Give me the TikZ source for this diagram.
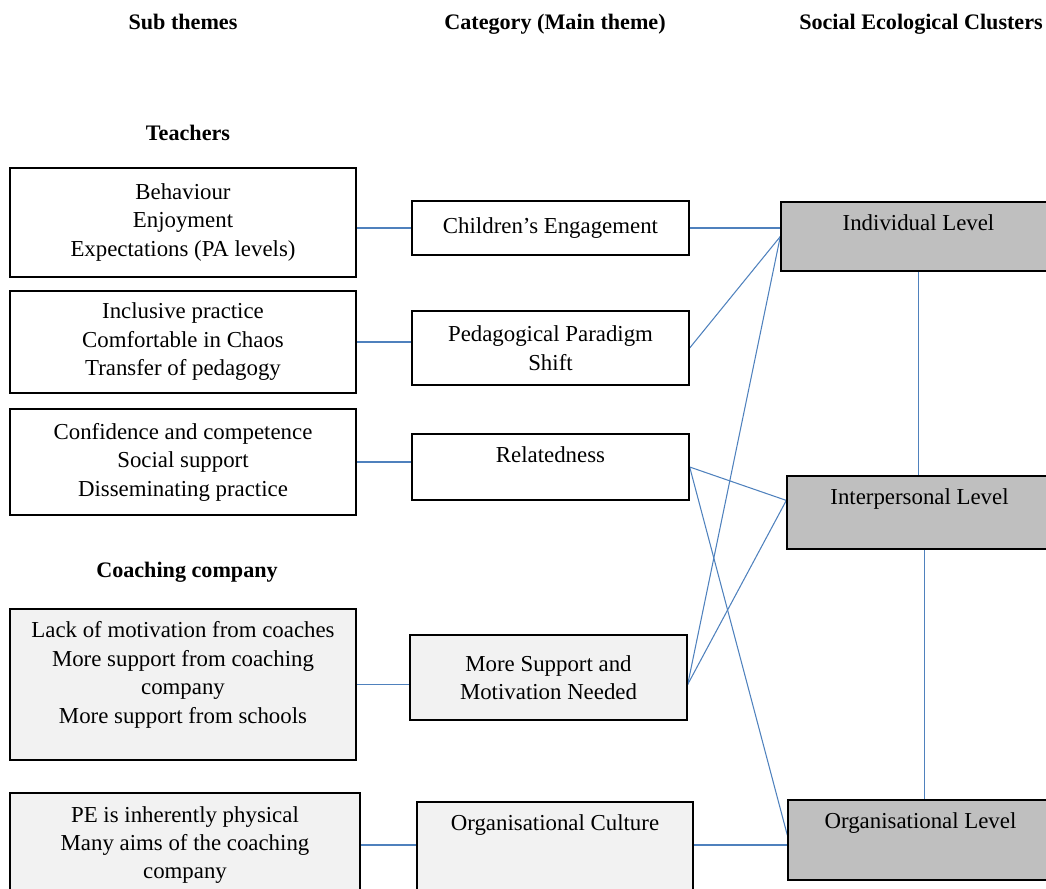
\documentclass[tikz,border=0pt]{standalone}
\usepackage{fontspec}
\setmainfont{Liberation Serif}
\pgfdeclarelayer{bg}
\pgfsetlayers{bg,main}
\definecolor{linkblue}{HTML}{4F81BD}
\definecolor{paleg}{HTML}{F2F2F2}
\definecolor{clustergray}{HTML}{BFBFBF}
\tikzset{
    every node/.style={font=\fontsize{13}{16.2}\selectfont, align=center, inner sep=1mm}
}
\tikzset{
    hdr/.style={font=\fontsize{12.6}{15}\selectfont\bfseries},
    subbox/.style={rectangle, draw, line width=0.8pt, minimum width=6.92cm},
    catbox/.style={rectangle, draw, line width=0.8pt, minimum width=5.54cm},
    lvlbox/.style={rectangle, draw, line width=0.8pt, fill=clustergray, minimum width=5.5cm},
    toplbl/.style={anchor=north, yshift=-0.16cm, draw=none, fill=none},
    link/.style={draw=linkblue, line width=0.6pt}
}

\begin{document}
\begin{tikzpicture}[x=0.02cm, y=-0.02cm]
        \useasboundingbox (0,0) rectangle (1046,889);
        \node (hsub) [hdr] at (183, 22) {Sub themes};
        \node (hcat) [hdr] at (555, 24) {Category (Main theme)};
        \node (hsec) [hdr] at (921, 24) {Social Ecological Clusters};
        \node (hteach) [hdr] at (188, 133) {Teachers};
        \node (hcoach) [hdr] at (187, 572) {Coaching company};
        \node (s1) [subbox, minimum height=2.18cm] at (183, 222.5) {Behaviour\\Enjoyment\\Expectations (PA levels)};
        \node (s2) [subbox, minimum height=2.04cm] at (183, 342) {Inclusive practice\\Comfortable in Chaos\\Transfer of pedagogy};
        \node (s3) [subbox, minimum height=2.12cm] at (183, 462) {Confidence and competence\\Social support\\Disseminating practice};
        \node (s4) [subbox, fill=paleg, minimum height=3.02cm, label={[toplbl]north:{Lack of motivation from coaches\\More support from coaching\\company\\More support from schools}}] at (183, 684.5) {};
        \node (s5) [subbox, fill=paleg, minimum width=7cm, minimum height=2.08cm] at (185, 845) {PE is inherently physical\\Many aims of the coaching\\company};
        \node (c1) [catbox, minimum height=1.08cm] at (550.5, 228) {Children's Engagement};
        \node (c2) [catbox, minimum height=1.48cm] at (550.5, 348) {Pedagogical Paradigm\\Shift};
        \node (c3) [catbox, minimum height=1.32cm, label={[toplbl]north:{Relatedness}}] at (550.5, 467) {};
        \node (c4) [catbox, fill=paleg, minimum height=1.70cm] at (548.5, 677.5) {More Support and\\Motivation Needed};
        \node (c5) [catbox, fill=paleg, minimum width=5.52cm, minimum height=2cm, label={[toplbl]north:{Organisational Culture}}] at (555, 852) {};
        \node (l1) [lvlbox, minimum height=1.38cm, label={[toplbl]north:{Individual Level}}] at (918.5, 236.5) {};
        \node (l2) [lvlbox, minimum height=1.46cm, label={[toplbl, xshift=-0.1cm]north:{Interpersonal Level}}] at (924.5, 512.5) {};
        \node (l3) [lvlbox, minimum height=1.6cm, label={[toplbl, xshift=-0.1cm]north:{Organisational Level}}] at (925.5, 840) {};
        \begin{pgfonlayer}{bg}
                \draw (s1.east |- c1.west) edge [link] (c1.west);
                \draw (c1.east) edge [link] (c1.east -| l1.west);
                \draw (s2.east) edge [link] (s2.east -| c2.west);
                \draw (c2.east) edge [link] (l1.west);
                \draw (s3.east) edge [link] (s3.east -| c3.west);
                \draw (c3.east) edge [link] (l2.175);
                \draw (c3.east) edge [link] (l3.178);
                \draw (s4.east) edge [link] (s4.east -| c4.west);
                \draw (s4.east -| c4.east) edge [link] (l1.west);
                \draw (s4.east -| c4.east) edge [link] (l2.175);
                \draw (s5.east) edge [link] (s5.east -| c5.west);
                \draw (s5.east -| c5.east) edge [link] (s5.east -| l3.west);
                \draw (l1.south) edge [link] (l1.south |- l2.north);
                \draw (l2.south) edge [link] (l2.south |- l3.north);
        \end{pgfonlayer}
\end{tikzpicture}
\end{document}
